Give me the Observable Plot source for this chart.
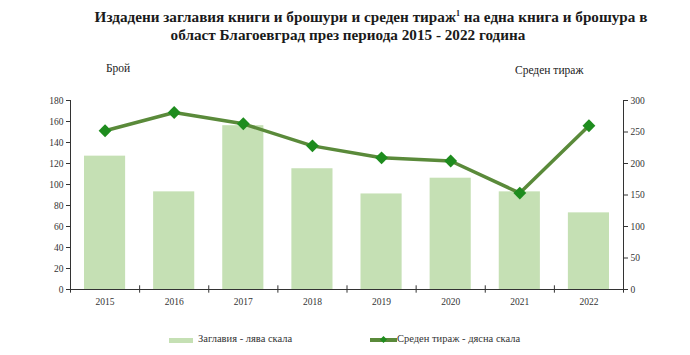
<!DOCTYPE html>
<html>
<head>
<meta charset="utf-8">
<script src="https://cdn.jsdelivr.net/npm/d3@7"></script>
<script src="https://cdn.jsdelivr.net/npm/@observablehq/plot@0.6"></script>
<style>
  body { margin: 0; background: #fff; font-family: "Liberation Serif", "Times New Roman", serif; }
  #wrap { position: relative; width: 690px; height: 355px; overflow: hidden; }
  #wrap svg { position: absolute; left: 0; top: 0; }
  .t { position: absolute; white-space: nowrap; color: #222; }
  #title { left: 0; width: 742px; top: 8px; text-align: center; font-weight: bold; font-size: 15.2px; line-height: 18px; color: #1a1a1a; }
  #title sup { font-size: 8px; vertical-align: 6px; line-height: 0; }
  #title .l2 { position: relative; left: -23px; }
  #lab1 { left: 106px; top: 62px; font-size: 11.5px; }
  #lab2 { left: 515px; top: 64px; font-size: 11.5px; }
  .leg { position: absolute; top: 333px; font-size: 10.5px; color: #333; white-space: nowrap; }
  .sw1 { position: absolute; left: 169px; top: 338px; width: 24px; height: 5px; background: #c5e0b4; }
  .sw2 { position: absolute; left: 370px; top: 338px; width: 27px; height: 4px; background: #5a8a3a; }
  .sw2dot { position: absolute; left: 381px; top: 337px; width: 5px; height: 5px; background: #1e8c1e; transform: rotate(45deg); }
</style>
</head>
<body>
<div id="wrap">
  <div class="t" id="title">Издадени заглавия книги и брошури и среден тираж<sup>1</sup> на една книга и брошура в<br><span class="l2">област Благоевград през периода 2015 - 2022 година</span></div>
  <div class="t" id="lab1">Брой</div>
  <div class="t" id="lab2">Среден тираж</div>
  <div class="sw1"></div>
  <div class="leg" style="left:198px">Заглавия - лява скала</div>
  <div class="sw2"></div>
  <div class="sw2dot"></div>
  <div class="leg" style="left:397px">Среден тираж - дясна скала</div>
</div>
<script>
const years = ["2015", "2016", "2017", "2018", "2019", "2020", "2021", "2022"];
const titles = [127, 93, 156, 115, 91, 106, 93, 73];
const avgPrint = [252, 281, 263, 228, 209, 204, 153, 260];
const leftTicks = [0, 20, 40, 60, 80, 100, 120, 140, 160, 180];
const rightTicks = [0, 50, 100, 150, 200, 250, 300];

const ratio = 180 / 300;
const data = years.map((y, i) => ({ i, year: y, titles: titles[i], avg: avgPrint[i] }));

const chart = Plot.plot({
  width: 690,
  height: 355,
  marginLeft: 70,
  marginRight: 67,
  marginTop: 100,
  marginBottom: 66,
  style: { fontFamily: "Liberation Serif, Times New Roman, serif", fontSize: "9.5px", color: "#333", background: "transparent" },
  x: { domain: [0, years.length], axis: null },
  y: { domain: [0, 180], axis: null },
  marks: [
    Plot.rectY(data, { x1: "i", x2: d => d.i + 1, y: "titles", insetLeft: 14, insetRight: 14, fill: "#c5e0b4" }),
    Plot.ruleX([0, years.length], { stroke: "#333", strokeWidth: 1 }),
    Plot.ruleY([0], { stroke: "#333", strokeWidth: 1 }),
    Plot.ruleX(d3.range(0, years.length + 1), { y1: -3.5, y2: 3.5, stroke: "#333" }),
    Plot.axisY({ ticks: leftTicks, tickSize: 4, tickPadding: 3, label: null, anchor: "left", stroke: "#333", fill: "#333" }),
    Plot.axisY({ anchor: "right", ticks: rightTicks.map(v => v * ratio), tickFormat: d => String(Math.round(d / ratio)), tickSize: 4, tickPadding: 3, label: null, stroke: "#333", fill: "#333" }),
    Plot.axisX({ ticks: data.map(d => d.i + 0.5), tickFormat: d => years[Math.floor(d)], tickSize: 0, tickPadding: 9, label: null, fill: "#333" }),
    Plot.line(data, { x: d => d.i + 0.5, y: d => d.avg * ratio, stroke: "#5a8a3a", strokeWidth: 3.5 }),
    Plot.dot(data, { x: d => d.i + 0.5, y: d => d.avg * ratio, symbol: "diamond2", r: 5.8, fill: "#1e8c1e", stroke: "none" })
  ]
});
document.getElementById("wrap").prepend(chart);
</script>
</body>
</html>
